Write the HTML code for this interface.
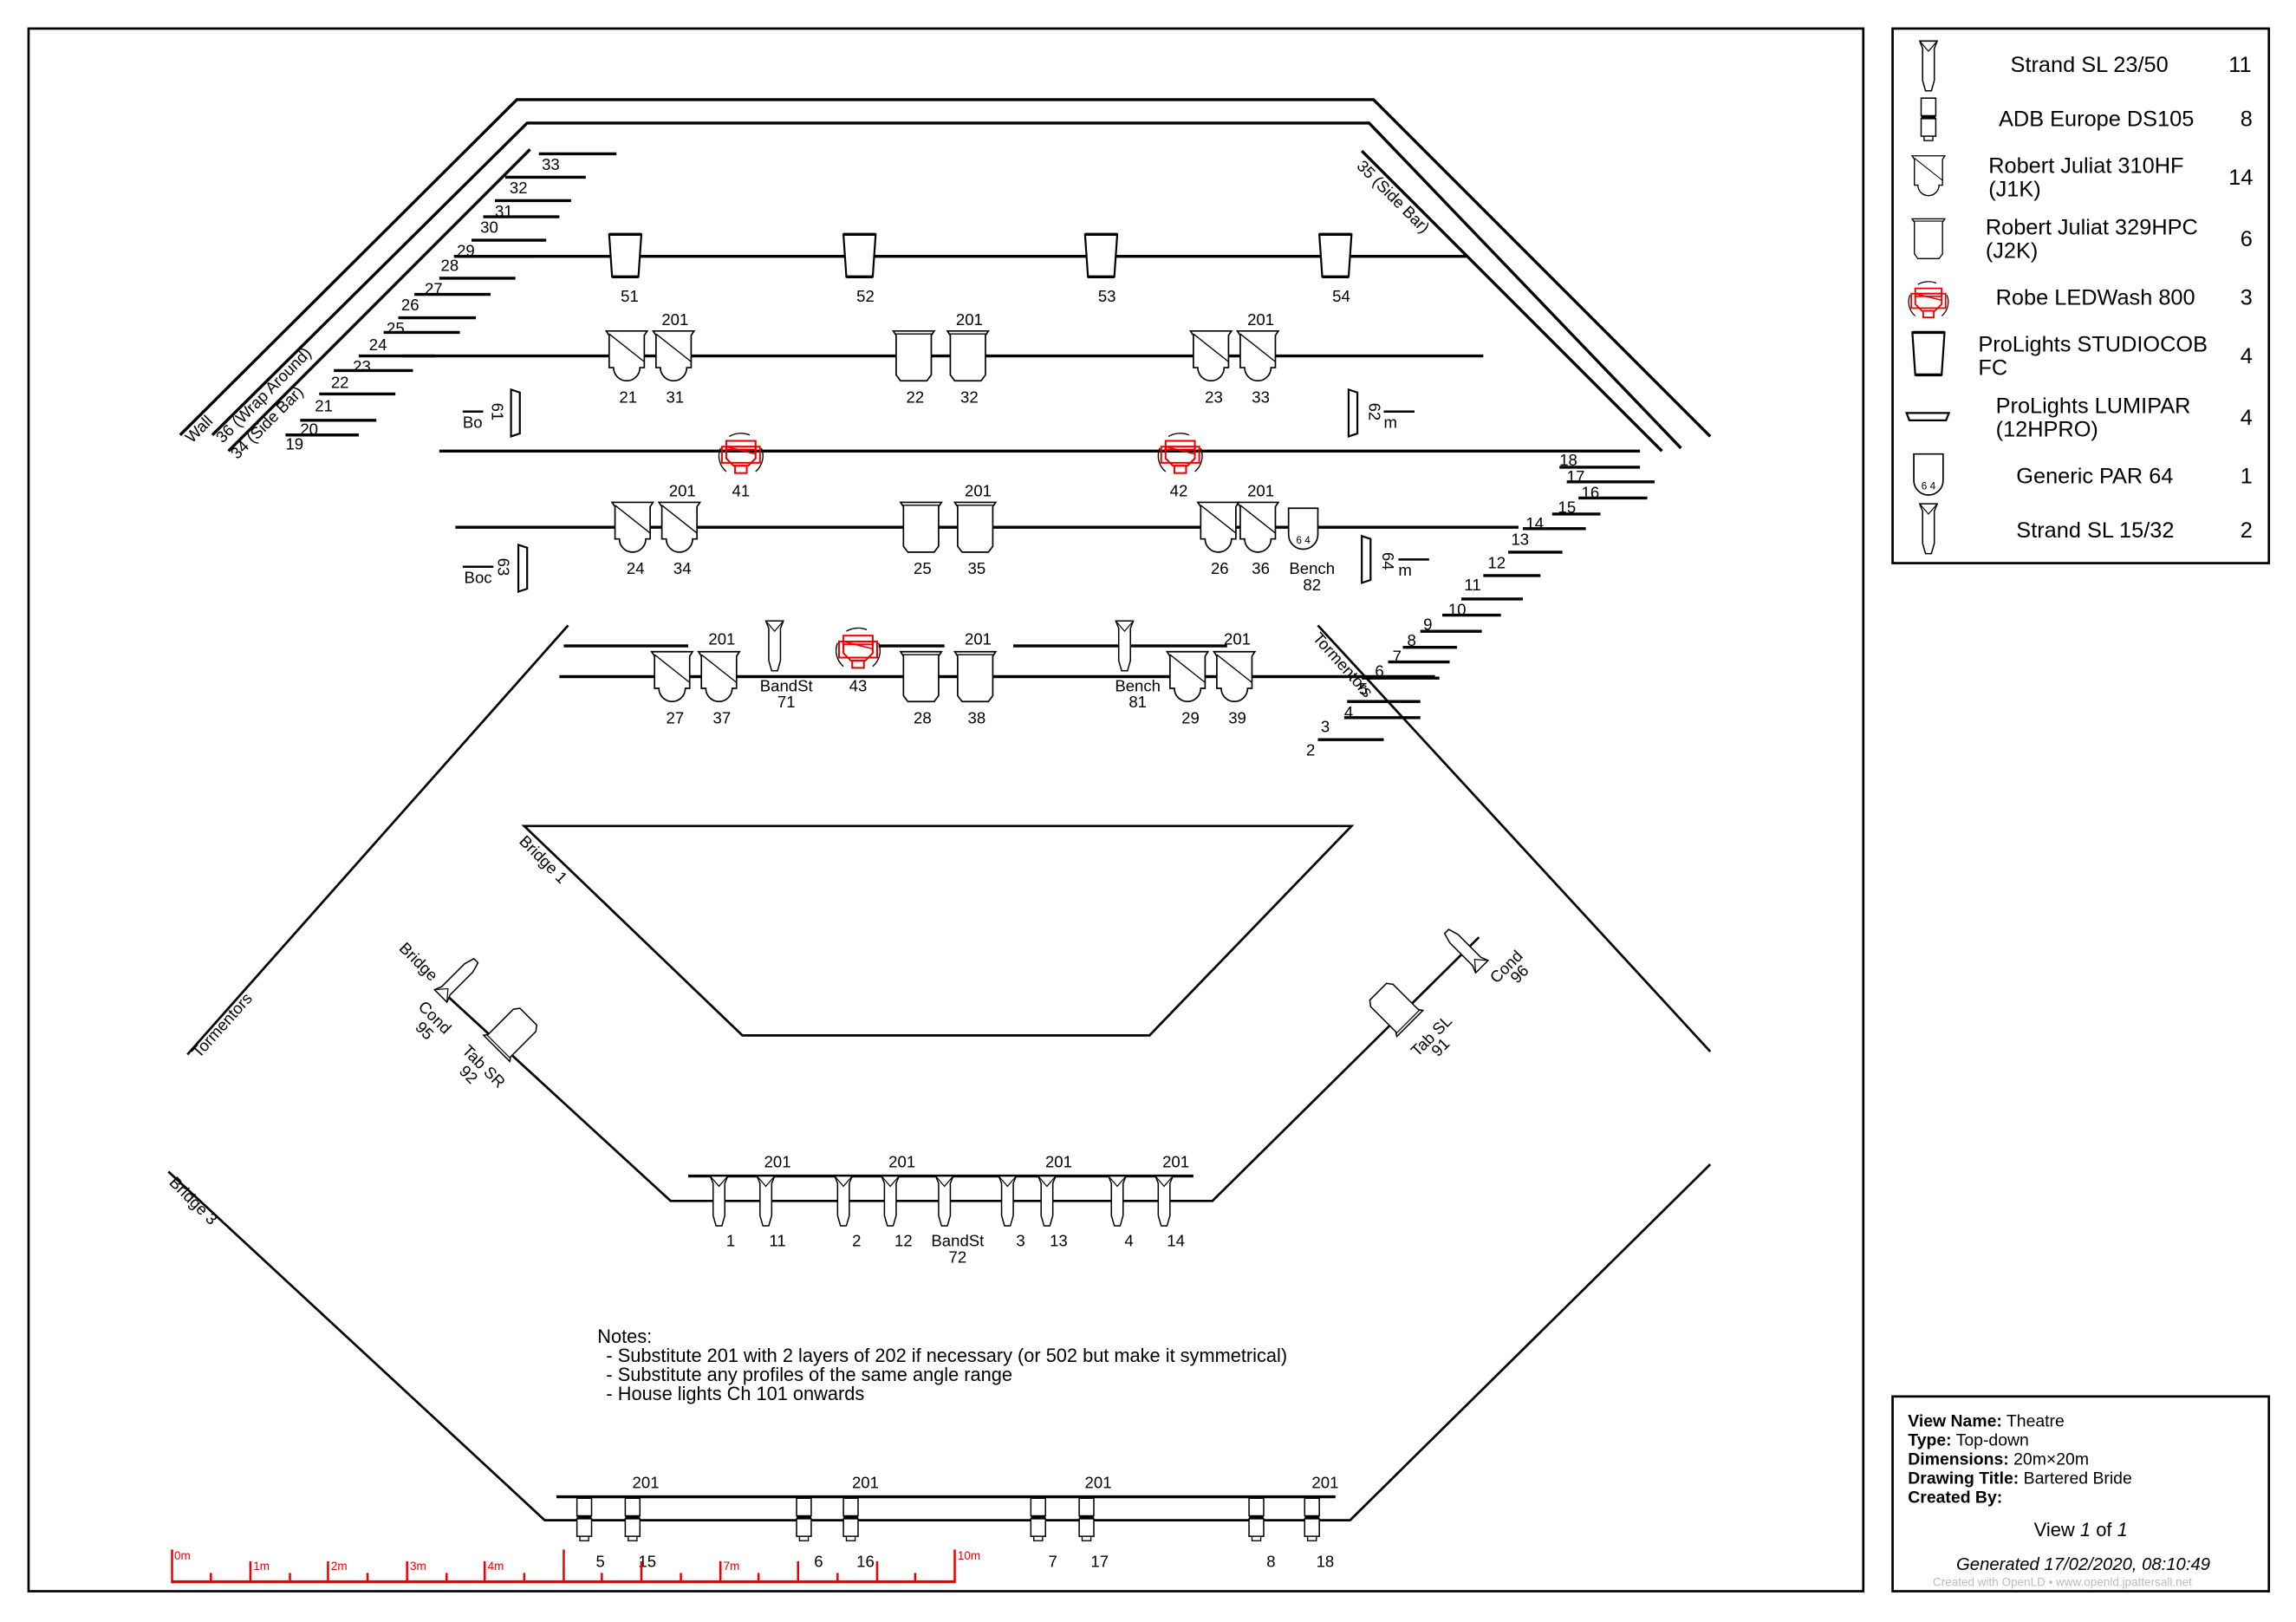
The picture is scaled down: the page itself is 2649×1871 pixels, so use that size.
<!DOCTYPE html>
<html><head><meta charset="utf-8"><style>html,body{margin:0;padding:0;background:#fff}svg{display:block}</style></head><body>
<svg width="2649" height="1871" viewBox="0 0 1568 1107.5" xmlns="http://www.w3.org/2000/svg" font-family="Liberation Sans, sans-serif">
<defs>
<symbol id="j1k" overflow="visible"><path d="M-14,-17 L14,-17 L12,-14 L12,8 L9,8 A9,9 0 0 1 -9,8 L-12,8 L-12,-14 Z" fill="#fff" stroke="#000" stroke-width="1"/><line x1="-12" y1="-15" x2="12" y2="4" stroke="#000" stroke-width="0.8"/></symbol>
<symbol id="j2k" overflow="visible"><path d="M-14,-17 L14,-17 L12,-14 L12,13 L9,17 L-9,17 L-12,13 L-12,-14 Z" fill="#fff" stroke="#000" stroke-width="1"/><line x1="-13" y1="-15" x2="13" y2="-15" stroke="#000" stroke-width="0.8"/></symbol>
<symbol id="cob" overflow="visible"><path d="M-11,-15 L11,-15 L9,14 L-9,14 Z" fill="#fff" stroke="#000" stroke-width="1.3"/><line x1="-11" y1="-15" x2="11" y2="-15" stroke="#000" stroke-width="2"/><line x1="-9" y1="14" x2="9" y2="14" stroke="#000" stroke-width="2"/></symbol>
<symbol id="led" overflow="visible"><path d="M-8,-12 A16,16 0 0 1 6,-13" fill="none" stroke="#000" stroke-width="0.8"/><path d="M-14,-4 A14,14 0 0 0 -10,12 M14,-4 A14,14 0 0 1 10,12" fill="none" stroke="#000" stroke-width="0.8"/><rect x="-10" y="-9" width="20" height="6" fill="none" stroke="#e00" stroke-width="1.2"/><rect x="-13" y="-5" width="26" height="11" fill="none" stroke="#e00" stroke-width="1.2"/><path d="M-10,-5 L10,-5 L10,3 L5,8 L-5,8 L-10,3 Z" fill="none" stroke="#e00" stroke-width="1.2"/><rect x="-4" y="8" width="8" height="5" fill="none" stroke="#e00" stroke-width="1.2"/><line x1="-10" y1="-5" x2="10" y2="0" stroke="#e00" stroke-width="1"/></symbol>
<symbol id="sl" overflow="visible"><path d="M-6,-17 L6,-17 L4,-12 L4,10 L2,17 L-2,17 L-4,10 L-4,-12 Z" fill="#fff" stroke="#000" stroke-width="0.9"/><path d="M-6,-17 L0,-10 L6,-17" fill="none" stroke="#000" stroke-width="0.7"/></symbol>
<symbol id="ds" overflow="visible"><rect x="-5" y="-14" width="10" height="12" fill="#fff" stroke="#000" stroke-width="0.9"/><rect x="-5" y="0" width="10" height="12" fill="#fff" stroke="#000" stroke-width="0.9"/><line x1="-5" y1="-1" x2="5" y2="-1" stroke="#000" stroke-width="2"/><rect x="-3" y="12" width="6" height="3" fill="#fff" stroke="#000" stroke-width="0.8"/></symbol>
<symbol id="par" overflow="visible"><path d="M-10,-13 L10,-13 L10,5 A10,10 0 0 1 -10,5 Z" fill="#fff" stroke="#000" stroke-width="1"/><text x="0" y="11" font-size="7" text-anchor="middle">6 4</text></symbol>
<symbol id="lum" overflow="visible"><path d="M-3,-16 L3,-14 L3,14 L-3,16 Z" fill="#fff" stroke="#000" stroke-width="1.3"/></symbol>
</defs>
<rect width="1568" height="1107.5" fill="#fff"/>
<g fill="none" stroke="#000" stroke-width="1.6">
<rect x="19.5" y="19.5" width="1253" height="1067"/>
<rect x="1292.5" y="19.5" width="257" height="365"/>
<rect x="1292.5" y="953.5" width="257" height="133"/>
</g>
<g fill="none" stroke="#000" stroke-width="2">
<polyline points="123,297 353,68 938,68 1168,298"/>
<polyline points="145,297 360,84 935,84 1148,306"/>
<line x1="156" y1="308" x2="362" y2="102"/>
<line x1="930" y1="103" x2="1135" y2="308"/>
<line x1="310" y1="175" x2="1002" y2="175"/>
<line x1="275" y1="243" x2="1013" y2="243"/>
<line x1="300" y1="308" x2="1120" y2="308"/>
<line x1="311" y1="360" x2="1037" y2="360"/>
<line x1="385" y1="441" x2="470" y2="441"/>
<line x1="600" y1="441" x2="645" y2="441"/>
<line x1="692" y1="441" x2="838" y2="441"/>
<line x1="382" y1="462" x2="980" y2="462"/>
<line x1="388" y1="427" x2="128" y2="720" stroke-width="1.6"/>
<line x1="900" y1="427" x2="1168" y2="718" stroke-width="1.6"/>
<polygon points="358,564 923,564 785,707 507,707" stroke-width="1.6"/>
<polyline points="300,675 458,820 828,820 1010,640" stroke-width="1.6"/>
<line x1="470" y1="803" x2="815" y2="803"/>
<polyline points="115,800 372,1038 922,1038 1168,795" stroke-width="1.6"/>
<line x1="380" y1="1022" x2="912" y2="1022"/>
</g>
<g stroke="#000" stroke-width="2">
<line x1="368" y1="105" x2="421" y2="105"/><line x1="345" y1="121" x2="400" y2="121"/><line x1="338" y1="137" x2="390" y2="137"/><line x1="330" y1="148" x2="382" y2="148"/><line x1="322" y1="164" x2="373" y2="164"/><line x1="313" y1="175" x2="365" y2="175"/><line x1="300" y1="190" x2="352" y2="190"/><line x1="283" y1="201" x2="335" y2="201"/><line x1="272" y1="217" x2="325" y2="217"/><line x1="262" y1="227" x2="314" y2="227"/><line x1="245" y1="243" x2="297" y2="243"/><line x1="228" y1="253" x2="282" y2="253"/><line x1="218" y1="269" x2="270" y2="269"/><line x1="205" y1="287" x2="257" y2="287"/><line x1="195" y1="297" x2="245" y2="297"/>
</g>
<g font-size="11" fill="#000">
<text x="370" y="116">33</text><text x="348" y="132">32</text><text x="338" y="148">31</text><text x="328" y="159">30</text><text x="312" y="175">29</text><text x="301" y="185">28</text><text x="290" y="201">27</text><text x="274" y="212">26</text><text x="264" y="228">25</text><text x="252" y="239">24</text><text x="241" y="254">23</text><text x="226" y="265">22</text><text x="215" y="281">21</text><text x="205" y="297">20</text><text x="195" y="307">19</text>
</g>
<g stroke="#000" stroke-width="2">
<line x1="1065" y1="319" x2="1120" y2="319"/><line x1="1070" y1="329" x2="1130" y2="329"/><line x1="1078" y1="340" x2="1125" y2="340"/><line x1="1060" y1="351" x2="1093" y2="351"/><line x1="1040" y1="361" x2="1083" y2="361"/><line x1="1030" y1="377" x2="1067" y2="377"/><line x1="1013" y1="393" x2="1052" y2="393"/><line x1="998" y1="409" x2="1040" y2="409"/><line x1="985" y1="420" x2="1025" y2="420"/><line x1="970" y1="431" x2="1012" y2="431"/><line x1="958" y1="442" x2="995" y2="442"/><line x1="948" y1="452" x2="990" y2="452"/><line x1="930" y1="463" x2="983" y2="463"/><line x1="920" y1="479" x2="970" y2="479"/><line x1="918" y1="490" x2="970" y2="490"/><line x1="900" y1="505" x2="945" y2="505"/>
</g>
<g font-size="11" fill="#000">
<text x="1065" y="318">18</text><text x="1070" y="329">17</text><text x="1080" y="340">16</text><text x="1064" y="350">15</text><text x="1042" y="361">14</text><text x="1032" y="372">13</text><text x="1016" y="388">12</text><text x="1000" y="403">11</text><text x="989" y="420">10</text><text x="972" y="430">9</text><text x="961" y="441">8</text><text x="951" y="452">7</text><text x="939" y="462">6</text><text x="928" y="474">5</text><text x="918" y="490">4</text><text x="902" y="500">3</text><text x="892" y="516">2</text>
</g>
<g font-size="11" fill="#000">
<text transform="translate(131,303) rotate(-45)">Wall</text>
<text transform="translate(152,303) rotate(-45)">36 (Wrap Around)</text>
<text transform="translate(162,314) rotate(-45)">34 (Side Bar)</text>
<text transform="translate(926,114) rotate(45)">35 (Side Bar)</text>
<text transform="translate(896,436) rotate(48)">Tormentors</text>
<text transform="translate(136,723) rotate(-48)">Tormentors</text>
<text transform="translate(354,575) rotate(45)">Bridge 1</text>
<text transform="translate(272,648) rotate(45)">Bridge</text>
<text transform="translate(285,688) rotate(45)">Cond</text>
<text transform="translate(283,702) rotate(45)">95</text>
<text transform="translate(315,718) rotate(45)">Tab SR</text>
<text transform="translate(313,732) rotate(45)">92</text>
<text transform="translate(1022,672) rotate(-45)">Cond</text>
<text transform="translate(1036,672) rotate(-45)">96</text>
<text transform="translate(968,722) rotate(-45)">Tab SL</text>
<text transform="translate(982,722) rotate(-45)">91</text>
<text transform="translate(115,808) rotate(45)">Bridge 3</text>
</g>
<use href="#cob" x="427" y="175"/><use href="#cob" x="587" y="175"/><use href="#cob" x="752" y="175"/><use href="#cob" x="912" y="175"/>
<use href="#j1k" x="428" y="243"/><use href="#j1k" x="460" y="243"/><use href="#j2k" x="624" y="243"/><use href="#j2k" x="661" y="243"/><use href="#j1k" x="827" y="243"/><use href="#j1k" x="859" y="243"/>
<use href="#led" x="506" y="310"/><use href="#led" x="806" y="310"/>
<use href="#j1k" x="432" y="360"/><use href="#j1k" x="464" y="360"/><use href="#j2k" x="629" y="360"/><use href="#j2k" x="666" y="360"/><use href="#j1k" x="832" y="360"/><use href="#j1k" x="859" y="360"/><use href="#par" x="890" y="360"/>
<use href="#lum" x="352" y="282"/><use href="#lum" x="357" y="388"/><use href="#lum" x="924" y="282"/><use href="#lum" x="933" y="382"/>
<g stroke="#000" stroke-width="1.5"><line x1="316" y1="281" x2="330" y2="281"/><line x1="316" y1="387" x2="337" y2="387"/><line x1="945" y1="281" x2="966" y2="281"/><line x1="955" y1="382" x2="976" y2="382"/></g>
<use href="#j1k" x="459" y="462"/><use href="#j1k" x="491" y="462"/><use href="#sl" x="529" y="441"/><use href="#led" x="586" y="443"/><use href="#j2k" x="629" y="462"/><use href="#j2k" x="666" y="462"/><use href="#sl" x="768" y="441"/><use href="#j1k" x="811" y="462"/><use href="#j1k" x="843" y="462"/>
<use href="#sl" x="491" y="820"/><use href="#sl" x="523" y="820"/><use href="#sl" x="576" y="820"/><use href="#sl" x="608" y="820"/><use href="#sl" x="645" y="820"/><use href="#sl" x="688" y="820"/><use href="#sl" x="715" y="820"/><use href="#sl" x="763" y="820"/><use href="#sl" x="795" y="820"/>
<use href="#sl" transform="translate(313,668) rotate(-135)"/>
<use href="#sl" transform="translate(1000,648) rotate(135)"/>
<use href="#j2k" transform="translate(350,705) rotate(-135) scale(0.9)"/>
<use href="#j2k" transform="translate(952,688) rotate(135) scale(0.9)"/>
<use href="#ds" x="399" y="1037"/><use href="#ds" x="432" y="1037"/><use href="#ds" x="549" y="1037"/><use href="#ds" x="581" y="1037"/><use href="#ds" x="709" y="1037"/><use href="#ds" x="742" y="1037"/><use href="#ds" x="858" y="1037"/><use href="#ds" x="896" y="1037"/>
<g font-size="11" fill="#000" text-anchor="middle">
<text x="430" y="206">51</text><text x="591" y="206">52</text><text x="756" y="206">53</text><text x="916" y="206">54</text>
<text x="461" y="222">201</text><text x="662" y="222">201</text><text x="861" y="222">201</text>
<text x="429" y="275">21</text><text x="461" y="275">31</text><text x="625" y="275">22</text><text x="662" y="275">32</text><text x="829" y="275">23</text><text x="861" y="275">33</text>
<text x="506" y="339">41</text><text x="805" y="339">42</text>
<text x="466" y="339">201</text><text x="668" y="339">201</text><text x="861" y="339">201</text>
<text x="434" y="392">24</text><text x="466" y="392">34</text><text x="630" y="392">25</text><text x="667" y="392">35</text><text x="833" y="392">26</text><text x="861" y="392">36</text><text x="896" y="392">Bench</text><text x="896" y="403">82</text>
<text x="493" y="440">201</text><text x="668" y="440">201</text><text x="845" y="440">201</text>
<text x="461" y="494">27</text><text x="493" y="494">37</text><text x="537" y="472">BandSt</text><text x="537" y="483">71</text><text x="586" y="472">43</text><text x="630" y="494">28</text><text x="667" y="494">38</text><text x="777" y="472">Bench</text><text x="777" y="483">81</text><text x="813" y="494">29</text><text x="845" y="494">39</text>
<text x="531" y="797">201</text><text x="616" y="797">201</text><text x="723" y="797">201</text><text x="803" y="797">201</text>
<text x="499" y="851">1</text><text x="531" y="851">11</text><text x="585" y="851">2</text><text x="617" y="851">12</text><text x="654" y="851">BandSt</text><text x="654" y="862">72</text><text x="697" y="851">3</text><text x="723" y="851">13</text><text x="771" y="851">4</text><text x="803" y="851">14</text>
<text x="441" y="1016">201</text><text x="591" y="1016">201</text><text x="750" y="1016">201</text><text x="905" y="1016">201</text>
<text x="410" y="1070">5</text><text x="442" y="1070">15</text><text x="559" y="1070">6</text><text x="591" y="1070">16</text><text x="719" y="1070">7</text><text x="751" y="1070">17</text><text x="868" y="1070">8</text><text x="905" y="1070">18</text>
</g>
<g font-size="11" fill="#000">
<text x="316" y="292">Bo</text><text x="317" y="398">Boc</text>
<text transform="translate(336,275) rotate(90)">61</text><text transform="translate(340,381) rotate(90)">63</text>
<text transform="translate(935,275) rotate(90)">62</text><text x="945" y="292">m</text>
<text transform="translate(944,377) rotate(90)">64</text><text x="955" y="393">m</text>
</g>
<g font-size="12.9" fill="#000">
<text x="408" y="917">Notes:</text>
<text x="414" y="930">- Substitute 201 with 2 layers of 202 if necessary (or 502 but make it symmetrical)</text>
<text x="414" y="943">- Substitute any profiles of the same angle range</text>
<text x="414" y="956">- House lights Ch 101 onwards</text>
</g>
<g stroke="#e00" stroke-width="1.5" fill="none">
<line x1="117" y1="1080" x2="652" y2="1080" stroke-width="2"/>
<line x1="117.5" y1="1058" x2="117.5" y2="1081"/><line x1="652" y1="1058" x2="652" y2="1081"/><line x1="385" y1="1058" x2="385" y2="1081"/>
<line x1="171" y1="1066" x2="171" y2="1081"/><line x1="224" y1="1066" x2="224" y2="1081"/><line x1="278" y1="1066" x2="278" y2="1081"/><line x1="331" y1="1066" x2="331" y2="1081"/><line x1="438" y1="1066" x2="438" y2="1081"/><line x1="492" y1="1066" x2="492" y2="1081"/><line x1="545" y1="1066" x2="545" y2="1081"/><line x1="599" y1="1066" x2="599" y2="1081"/>
<line x1="144" y1="1074" x2="144" y2="1081"/><line x1="198" y1="1074" x2="198" y2="1081"/><line x1="251" y1="1074" x2="251" y2="1081"/><line x1="305" y1="1074" x2="305" y2="1081"/><line x1="358" y1="1074" x2="358" y2="1081"/><line x1="411" y1="1074" x2="411" y2="1081"/><line x1="465" y1="1074" x2="465" y2="1081"/><line x1="518" y1="1074" x2="518" y2="1081"/><line x1="572" y1="1074" x2="572" y2="1081"/><line x1="625" y1="1074" x2="625" y2="1081"/>
</g>
<g font-size="8" fill="#e00"><text x="119" y="1065">0m</text><text x="173" y="1072">1m</text><text x="226" y="1072">2m</text><text x="280" y="1072">3m</text><text x="333" y="1072">4m</text><text x="494" y="1072">7m</text><text x="654" y="1065">10m</text></g>
<use href="#sl" x="1317" y="45"/><use href="#ds" x="1317" y="81"/>
<use href="#j1k" transform="translate(1317,120) scale(0.8)"/>
<use href="#j2k" transform="translate(1317,163) scale(0.8)"/>
<use href="#led" transform="translate(1317,205) scale(0.9)"/>
<use href="#cob" x="1317" y="242"/>
<path d="M1302,282 L1331,282 L1329,287 L1304,287 Z" fill="#fff" stroke="#000" stroke-width="1.3"/>
<use href="#par" x="1317" y="323"/>
<use href="#sl" x="1317" y="361"/>
<g font-size="15" fill="#000">
<text x="1373" y="49">Strand SL 23/50</text><text x="1522" y="49">11</text>
<text x="1365" y="86">ADB Europe DS105</text><text x="1530" y="86">8</text>
<text x="1358" y="118">Robert Juliat 310HF</text><text x="1358" y="134">(J1K)</text><text x="1522" y="126">14</text>
<text x="1356" y="160">Robert Juliat 329HPC</text><text x="1356" y="176">(J2K)</text><text x="1530" y="168">6</text>
<text x="1363" y="208">Robe LEDWash 800</text><text x="1530" y="208">3</text>
<text x="1351" y="240">ProLights STUDIOCOB</text><text x="1351" y="256">FC</text><text x="1530" y="248">4</text>
<text x="1363" y="282">ProLights LUMIPAR</text><text x="1363" y="298">(12HPRO)</text><text x="1530" y="290">4</text>
<text x="1377" y="330">Generic PAR 64</text><text x="1530" y="330">1</text>
<text x="1377" y="367">Strand SL 15/32</text><text x="1530" y="367">2</text>
</g>
<g font-size="11.5" fill="#000">
<text x="1303" y="974"><tspan font-weight="bold">View Name:</tspan> Theatre</text>
<text x="1303" y="987"><tspan font-weight="bold">Type:</tspan> Top-down</text>
<text x="1303" y="1000"><tspan font-weight="bold">Dimensions:</tspan> 20m×20m</text>
<text x="1303" y="1013"><tspan font-weight="bold">Drawing Title:</tspan> Bartered Bride</text>
<text x="1303" y="1026"><tspan font-weight="bold">Created By:</tspan></text>
<text x="1389" y="1049" font-size="13">View <tspan font-style="italic">1</tspan> of <tspan font-style="italic">1</tspan></text>
<text x="1336" y="1072" font-size="12" font-style="italic">Generated 17/02/2020, 08:10:49</text>
<text x="1320" y="1083" font-size="8" fill="#bbb">Created with OpenLD • www.openld.jpattersall.net</text>
</g>
</svg>
</body></html>
